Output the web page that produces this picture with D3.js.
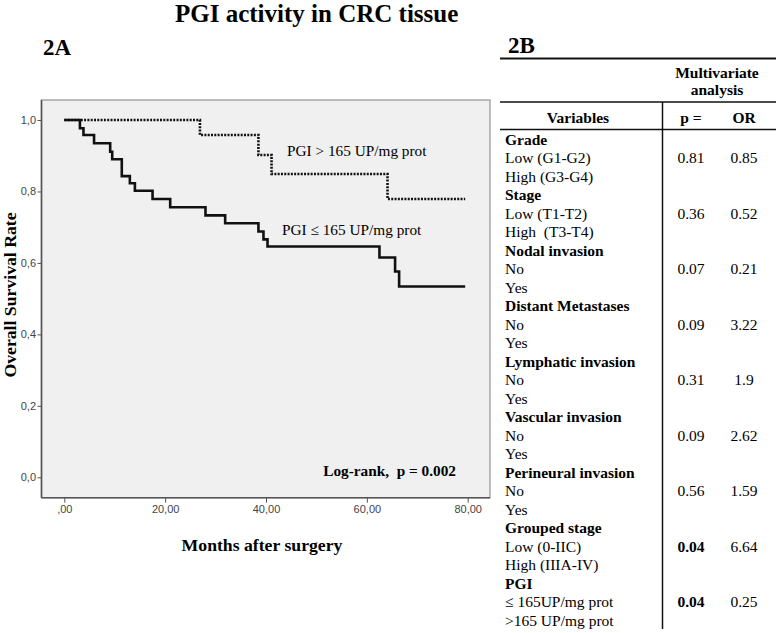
<!DOCTYPE html>
<html>
<head>
<meta charset="utf-8">
<script src="https://cdn.jsdelivr.net/npm/d3@7"></script>
<style>
  html, body { margin: 0; padding: 0; background: #fff; }
  svg { display: block; }
  text { white-space: pre; }
</style>
</head>
<body>
<svg id="chart" width="776" height="633"></svg>
<script>
// ---------- DATA ----------
// Kaplan-Meier curve, PGI > 165 UP/mg prot (time in months, survival after the step)
const highTimes    = [0, 26.9, 38.5, 41.1, 64.1, 79.5];
const highSurvival = [1.0, 0.958, 0.902, 0.849, 0.779, 0.779];
// Kaplan-Meier curve, PGI <= 165 UP/mg prot
const lowTimes    = [0, 3.1, 3.8, 5.9, 9.1, 9.5, 11.4, 13.0, 14.0, 17.5, 21.0, 28.0, 31.9, 38.5, 39.5, 40.3, 62.5, 65.6, 66.4, 79.5];
const lowSurvival = [1.0, 0.977, 0.958, 0.935, 0.911, 0.890, 0.843, 0.823, 0.802, 0.779, 0.756, 0.733, 0.711, 0.688, 0.666, 0.646, 0.615, 0.576, 0.534, 0.534];

const xTicks = [0, 20, 40, 60, 80];
const xTickLabels = [",00", "20,00", "40,00", "60,00", "80,00"];
const yTicks = [0, 0.2, 0.4, 0.6, 0.8, 1.0];
const yTickLabels = ["0,0", "0,2", "0,4", "0,6", "0,8", "1,0"];

// Multivariate table
const variables = ["Grade", "Stage", "Nodal invasion", "Distant Metastases", "Lymphatic invasion",
                   "Vascular invasion", "Perineural invasion", "Grouped stage", "PGI"];
const levels = [["Low (G1-G2)", "High (G3-G4)"], ["Low (T1-T2)", "High  (T3-T4)"], ["No", "Yes"],
                ["No", "Yes"], ["No", "Yes"], ["No", "Yes"], ["No", "Yes"],
                ["Low (0-IIC)", "High (IIIA-IV)"], ["\u2264 165UP/mg prot", ">165 UP/mg prot"]];
const pValues  = ["0.81", "0.36", "0.07", "0.09", "0.31", "0.09", "0.56", "0.04", "0.04"];
const orValues = ["0.85", "0.52", "0.21", "3.22", "1.9", "2.62", "1.59", "6.64", "0.25"];

// ---------- DRAW ----------
const svg = d3.select("#chart");
const serif = "'Liberation Serif', 'Times New Roman', serif";
const sans = "'Liberation Sans', Arial, sans-serif";

// Title and panel labels
svg.append("text").attr("x", 175).attr("y", 22)
  .attr("font-family", serif).attr("font-weight", "bold").attr("font-size", 25)
  .text("PGI activity in CRC tissue");
svg.append("text").attr("x", 43).attr("y", 55)
  .attr("font-family", serif).attr("font-weight", "bold").attr("font-size", 23).text("2A");
svg.append("text").attr("x", 508).attr("y", 53)
  .attr("font-family", serif).attr("font-weight", "bold").attr("font-size", 23).text("2B");

// Panel geometry
const panel = {left: 41.5, top: 100, right: 490, bottom: 497.7};
const x = d3.scaleLinear().domain([0, 80]).range([64.3, 467.7]);
const y = d3.scaleLinear().domain([0, 1]).range([477.3, 120]);

svg.append("rect").attr("x", panel.left).attr("y", panel.top)
  .attr("width", panel.right - panel.left).attr("height", panel.bottom - panel.top)
  .attr("fill", "#f0f0f0").attr("stroke", "#9a9a9a").attr("stroke-width", 1.3);

// Axes
const yAxis = d3.axisLeft(y).tickValues(yTicks).tickFormat((d, i) => yTickLabels[i]).tickSize(4).tickPadding(1.5);
const gy = svg.append("g").attr("transform", `translate(${panel.left},0)`).call(yAxis);
gy.select(".domain").attr("d", `M0,${panel.top}V${panel.bottom}`).attr("stroke", "#555").attr("stroke-width", 1.6);

const xAxis = d3.axisBottom(x).tickValues(xTicks).tickFormat((d, i) => xTickLabels[i]).tickSize(5).tickPadding(3);
const gx = svg.append("g").attr("transform", `translate(0,${panel.bottom})`).call(xAxis);
gx.select(".domain").attr("d", `M${panel.left},0H${panel.right}`).attr("stroke", "#555").attr("stroke-width", 1.6);

[gx, gy].forEach(g => {
  g.selectAll(".tick line").attr("stroke", "#555").attr("stroke-width", 1);
  g.selectAll(".tick text").attr("font-family", sans).attr("font-size", 11).attr("fill", "#444");
});

// Axis titles
svg.append("text").attr("transform", "translate(16,295) rotate(-90)").attr("text-anchor", "middle")
  .attr("font-family", serif).attr("font-weight", "bold").attr("font-size", 17.7)
  .text("Overall Survival Rate");
svg.append("text").attr("x", 262).attr("y", 551).attr("text-anchor", "middle")
  .attr("font-family", serif).attr("font-weight", "bold").attr("font-size", 17.7)
  .text("Months after surgery");

// Curves
const line = d3.line().x(d => x(d[0])).y(d => y(d[1])).curve(d3.curveStepAfter);
const highData = highTimes.map((t, i) => [t, highSurvival[i]]);
const lowData = lowTimes.map((t, i) => [t, lowSurvival[i]]);

svg.append("path").datum(lowData).attr("d", line)
  .attr("fill", "none").attr("stroke", "#111").attr("stroke-width", 2.6);
svg.append("path").datum(highData).attr("d", line)
  .attr("fill", "none").attr("stroke", "#111").attr("stroke-width", 2.6)
  .attr("stroke-dasharray", "2,1.3");

// Curve labels
svg.append("text").attr("x", 287).attr("y", 156)
  .attr("font-family", serif).attr("font-size", 15.3).text("PGI > 165 UP/mg prot");
svg.append("text").attr("x", 282).attr("y", 235)
  .attr("font-family", serif).attr("font-size", 15.3).text("PGI \u2264 165 UP/mg prot");
svg.append("text").attr("x", 456).attr("y", 476).attr("text-anchor", "end")
  .attr("font-family", serif).attr("font-weight", "bold").attr("font-size", 15.3).text("Log-rank,  p = 0.002");

// ---------- TABLE ----------
const tLeft = 500, tRight = 776, vLineX = 662.5;
const colP = 691, colOR = 744;
svg.append("line").attr("x1", tLeft).attr("x2", tRight).attr("y1", 58.5).attr("y2", 58.5)
  .attr("stroke", "#111").attr("stroke-width", 2);
svg.append("line").attr("x1", tLeft).attr("x2", tRight).attr("y1", 102).attr("y2", 102)
  .attr("stroke", "#111").attr("stroke-width", 1.3);
svg.append("line").attr("x1", tLeft).attr("x2", tRight).attr("y1", 129.5).attr("y2", 129.5)
  .attr("stroke", "#111").attr("stroke-width", 1.3);
svg.append("line").attr("x1", vLineX).attr("x2", vLineX).attr("y1", 102).attr("y2", 629)
  .attr("stroke", "#111").attr("stroke-width", 1.5);

const hdr = (txt, xx, yy, anchor) => svg.append("text").attr("x", xx).attr("y", yy)
  .attr("text-anchor", anchor).attr("font-family", serif).attr("font-weight", "bold")
  .attr("font-size", 15.5).text(txt);
hdr("Multivariate", 717, 78, "middle");
hdr("analysis", 717, 95, "middle");
hdr("Variables", 578, 123, "middle");
hdr("p =", colP, 123, "middle");
hdr("OR", colOR, 123, "middle");

const row = d3.scaleLinear().domain([0, 26]).range([139.5, 620.5]);
const rows = [];
variables.forEach((v, i) => {
  rows.push({text: v, bold: true});
  rows.push({text: levels[i][0], bold: false, p: pValues[i], or: orValues[i]});
  rows.push({text: levels[i][1], bold: false});
});
const rg = svg.append("g").attr("font-family", serif).attr("font-size", 15.5);
rows.forEach((r, i) => {
  const yy = row(i) + 5;
  rg.append("text").attr("x", 505).attr("y", yy)
    .attr("font-weight", r.bold ? "bold" : "normal").text(r.text);
  if (r.p) {
    rg.append("text").attr("x", colP).attr("y", yy).attr("text-anchor", "middle")
      .attr("font-weight", (+r.p < 0.05) ? "bold" : "normal").text(r.p);
    rg.append("text").attr("x", colOR).attr("y", yy).attr("text-anchor", "middle").text(r.or);
  }
});
</script>
</body>
</html>
